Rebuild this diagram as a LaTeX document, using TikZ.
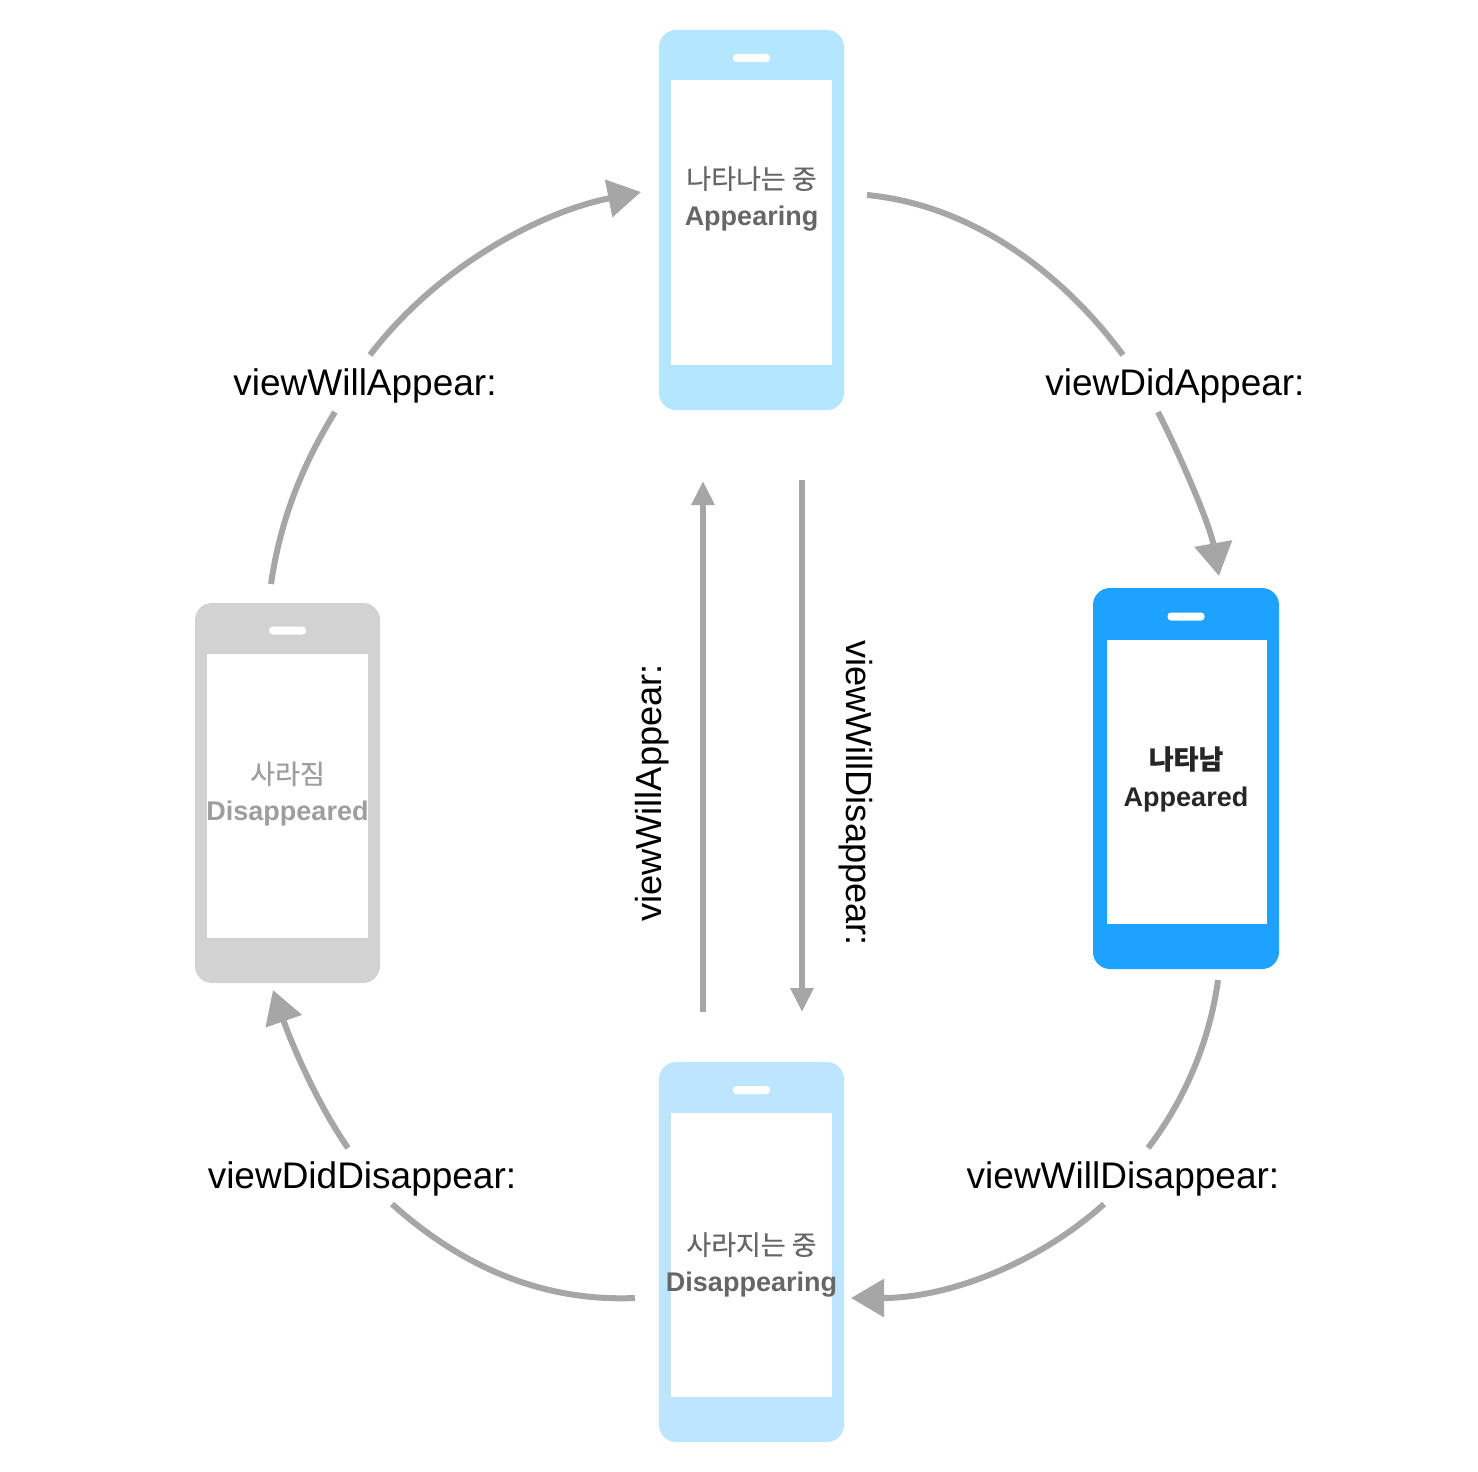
\documentclass[tikz,border=0pt]{standalone}
\usepackage{fontspec}
\setmainfont{Liberation Sans}
\newfontfamily\krfont[FakeBold=0.5]{Noto Sans CJK KR}
\usetikzlibrary{arrows.meta}
\definecolor{cAppear}{HTML}{B5E6FF}
\definecolor{cDisap}{HTML}{BEE5FF}
\definecolor{cOn}{HTML}{1EA2FF}
\definecolor{cOff}{HTML}{D2D2D2}
\definecolor{cLine}{HTML}{A6A6A6}
\tikzset{
  x=1pt,y=-1pt,
  phonebody/.style={rectangle,rounded corners=17pt,inner sep=0pt,minimum width=185pt,minimum height=380pt},
  phonescreen/.style={rectangle,fill=white,inner sep=0pt,minimum width=161pt,minimum height=284pt},
  phoneslot/.style={rectangle,rounded corners=3.5pt,fill=white,inner sep=0pt,minimum width=37pt,minimum height=8pt},
  statetext/.style={align=center,inner sep=0pt,font=\fontsize{27}{37}\selectfont},
  method/.style={inner sep=0pt,text=black,font=\fontsize{37}{44}\selectfont},
  sidemethod/.style={inner sep=0pt,text=black,font=\fontsize{36.2}{44}\selectfont},
  flow/.style={draw=cLine,line width=6pt},
  flowtip/.style={flow,-{Triangle[length=33pt,width=37pt]}},
  sidetip/.style={flow,-{Triangle[length=24pt,width=22pt]}},
}
\begin{document}
\begin{tikzpicture}
\useasboundingbox (0,0) rectangle (1478,1472);
% phones
\node[phonebody,fill=cAppear] (pa) at (751.5,220) {};
\node[phonescreen] (pas) at (751.5,222.5) {};
\node[phoneslot] (pal) at (751.5,58) {};
\node[phonebody,fill=cDisap] (pd) at (751.5,1252) {};
\node[phonescreen] (pds) at (751.5,1254.5) {};
\node[phoneslot] (pdl) at (751.5,1090) {};
\node[phonebody,fill=cOn,minimum width=186pt,minimum height=381pt] (pn) at (1186,778.5) {};
\node[phonescreen,minimum width=160pt] (pns) at (1187,782) {};
\node[phoneslot] (pnl) at (1186,616.5) {};
\node[phonebody,fill=cOff] (pf) at (287.5,793) {};
\node[phonescreen] (pfs) at (287.5,796) {};
\node[phoneslot] (pfl) at (287.5,630.5) {};
% state texts
\node[statetext,text=black!60] (ta) at (751.5,199) {{\krfont 나타나는 중}\\\textbf{Appearing}};
\node[statetext,text=black!60] (td) at (751.5,1265) {{\krfont 사라지는 중}\\\textbf{Disappearing}};
\node[statetext,text=black!85] (tn) at (1186,779) {{\krfont\bfseries 나타남}\\\textbf{Appeared}};
\node[statetext,text=black!38] (tf) at (287.5,794) {{\krfont 사라짐}\\\textbf{Disappeared}};
% method labels
\node[method] (l1) at (365,386) {viewWillAppear:};
\node[method] (l2) at (1175,386) {viewDidAppear:};
\node[method] (l3) at (1123,1179) {viewWillDisappear:};
\node[method] (l4) at (362,1179) {viewDidDisappear:};
\node[sidemethod,rotate=90] (l5) at (652.5,793) {viewWillAppear:};
\node[sidemethod,rotate=-90] (l6) at (856,793) {viewWillDisappear:};
% free ends
\coordinate (a1) at (271,584);
\coordinate (a2) at (335,412);
\coordinate (a3) at (370,355);
\coordinate (a4) at (641,192);
\coordinate (b1) at (867,195);
\coordinate (b2) at (1123,355);
\coordinate (b3) at (1158,412);
\coordinate (b4) at (1219,576);
\coordinate (c1) at (1218,980);
\coordinate (c2) at (1148,1148);
\coordinate (c3) at (1104,1204);
\coordinate (c4) at (851,1298);
\coordinate (d1) at (635,1298);
\coordinate (d2) at (392,1204);
\coordinate (d3) at (348,1148);
\coordinate (d4) at (273,990);
\coordinate (e1) at (703,1012);
\coordinate (e2) at (703,481);
\coordinate (f1) at (802,480);
\coordinate (f2) at (802,1012);
% connectors
\draw[flow] (a1) .. controls (281,515) and (305,461) .. (a2);
\draw[flowtip] (a3) .. controls (437,267) and (540,212) .. (a4);
\draw[flow] (b1) .. controls (970,205) and (1060,270) .. (b2);
\draw[flowtip] (b3) .. controls (1180,455) and (1210,525) .. (b4);
\draw[flow] (c1) .. controls (1210,1040) and (1185,1100) .. (c2);
\draw[flowtip] (c3) .. controls (1040,1262) and (950,1298) .. (c4);
\draw[flow] (d1) .. controls (540,1302) and (460,1265) .. (d2);
\draw[flowtip] (d3) .. controls (318,1105) and (292,1045) .. (d4);
\draw[sidetip] (e1) -- (e2);
\draw[sidetip] (f1) -- (f2);
\end{tikzpicture}
\end{document}
